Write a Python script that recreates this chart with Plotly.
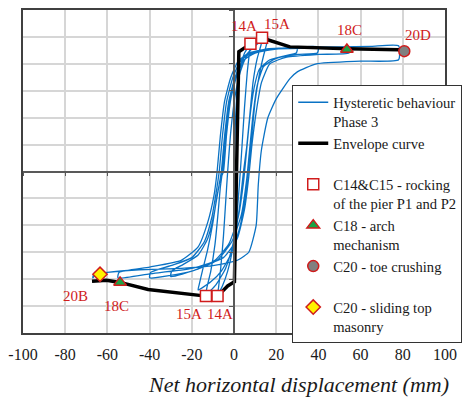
import plotly.graph_objects as go

# ---------------- data ----------------
# hysteretic cycles (net horizontal displacement mm, force)
hyst_x_c1 = [0, 0.5, 1.5, 3, 5, 7.8, 7.3, 6.3, 5, 4, 3, 1.5, -0.5, -3, -5.5, -7.8, -7.3, -6.3, -5, -4, -3]
hyst_y_c1 = [0, 15, 30, 39, 44, 47.4, 44, 37, 24, 12, 0, -15, -28, -37, -42.5, -45.8, -43, -36, -24, -12, 0]

hyst_x_c2 = [-1.5, 0.5, 3, 6, 9.5, 13.3, 12.8, 11, 9, 7.5, 6, 4.5, 2.5, -0.5, -4, -8.5, -13.3, -12.8, -11, -9, -7.5, -6.5, -5.5]
hyst_y_c2 = [15, 28, 37, 43, 47, 49.6, 47, 42, 33, 21, 9, 0, -14, -27, -36, -42, -45.8, -43, -37, -27, -15, -6, 0]

hyst_x_c3 = [-4, -2, 1, 4.5, 9, 13, 16, 15.5, 14, 12, 10, 8.5, 7, 5.5, 3, -1, -6, -11, -17, -16.5, -15, -12.5, -10, -8, -6.5, -5]
hyst_y_c3 = [14, 27, 36, 42, 46, 48.5, 50, 47.5, 43, 36, 26, 14, 3, -8, -20, -30, -37, -41, -44, -42, -37, -29, -19, -9, -3, 0]

hyst_x_c4 = [-3.5, -1.5, 1.5, 5, 10, 18, 30, 29.5, 24, 17, 12, 9.5, 7.5, 6, 4.5, 2, -2.5, -9, -18, -30, -29.5, -24, -17, -12.5, -9.5, -7.5, -6]
hyst_y_c4 = [14, 27, 36, 41.5, 44.5, 45.5, 46, 44, 43, 41.5, 38, 31, 20, 8, -4, -17, -27, -33, -36.5, -39, -37, -34.5, -31, -25, -16, -7, 0]

hyst_x_c5 = [-4.5, -2.5, 0.5, 4, 10, 20, 40, 39.5, 30, 20, 14, 11, 9, 7.5, 6, 3.5, -1, -8, -20, -40, -39.5, -30, -20, -14, -10.5, -8.5, -7]
hyst_y_c5 = [13, 26, 35, 41, 44, 45.5, 46.3, 44, 43.5, 42, 39, 32, 21, 9, -3, -16, -26, -33, -37, -39.5, -37.5, -35, -32, -26, -17, -8, 0]

hyst_x_c6 = [-5.5, -3.5, -0.5, 3, 8, 18, 35, 55, 54.5, 40, 25, 17, 13, 10.5, 8.5, 7, 5, 1.5, -5, -20, -40, -55, -54.5, -40, -25, -17, -12.5, -9.5, -8]
hyst_y_c6 = [13, 26, 35, 41, 44, 45.5, 45.8, 46, 44, 43.5, 42.5, 40, 33, 22, 10, -2, -14, -25, -32, -36, -38, -39.5, -37.5, -35.5, -33, -28, -19, -9, 0]

hyst_x_c7 = [-6.5, -4.5, -1.5, 2, 7, 15, 30, 50, 65, 78, 78, 60, 39, 30, 26.5, 20, 16, 13, 11.5, 10.5, 7, 2.3, -2, -10, -25, -45, -60, -65, -67, -66, -63]
hyst_y_c7 = [13, 26, 35, 41, 44, 45.5, 46, 46.3, 46.5, 46.7, 41.5, 41, 40, 37, 34.5, 27, 19.9, 8, -5, -20, -30, -32.7, -33.8, -35, -36, -36.5, -37.5, -38, -39.5, -37.5, -36.5]

# envelope curve
env_x = [-67.3, -60.4, -54, -40.7, -13.3, -7.8, -3, 0.2, 2.3, 7.8, 13.3, 26.5, 54, 78, 80.5]
env_y = [-40.8, -40.4, -41.2, -43.8, -46.3, -46.3, -42.5, -41, 44.5, 47.4, 49.6, 46.3, 45.6, 45.2, 44.7]

# damage markers
rock_x = [7.8, 13.3, -13.3, -7.8]
rock_y = [47.5, 49.7, -46.3, -46.3]
rock_lbl = ["14A", "15A", "15A", "14A"]
arch_x = [53.5, -54]
arch_y = [45.3, -41.2]
arch_lbl = ["18C", "18C"]
toe_x = [80.7]
toe_y = [44.7]
toe_lbl = ["20D"]
slide_x = [-63.5]
slide_y = [-38.2]
slide_lbl = ["20B"]

x_ticks = [-100, -80, -60, -40, -20, 0, 20, 40, 60, 80, 100]
x_tick_text = ["-100", "-80", "-60", "-40", "-20", "0", "20", "40", "60", "80", "100"]
y_ticks = [-60, -50, -40, -30, -20, -10, 0, 10, 20, 30, 40, 50, 60]

# ---------------- figure ----------------
hyst_x = [0] + hyst_x_c1 + hyst_x_c2 + hyst_x_c3 + hyst_x_c4 + hyst_x_c5 + hyst_x_c6 + hyst_x_c7
hyst_y = [0] + hyst_y_c1 + hyst_y_c2 + hyst_y_c3 + hyst_y_c4 + hyst_y_c5 + hyst_y_c6 + hyst_y_c7

SERIF = "Times New Roman, Liberation Serif, DejaVu Serif, serif"
RED = "#D01C1C"

fig = go.Figure()
fig.add_trace(go.Scatter(x=hyst_x, y=hyst_y, mode="lines",
                         line=dict(color="#0A72C4", width=1.3, shape="spline", smoothing=0.5),
                         name="Hysteretic behaviour<br>Phase 3"))
fig.add_trace(go.Scatter(x=env_x, y=env_y, mode="lines",
                         line=dict(color="black", width=3.5),
                         name="Envelope curve<br> "))
fig.add_trace(go.Scatter(x=rock_x, y=rock_y, mode="markers",
                         marker=dict(symbol="square", size=11, color="white",
                                     line=dict(color=RED, width=1.5)),
                         name="C14&C15 - rocking<br>of the pier P1 and P2"))
fig.add_trace(go.Scatter(x=arch_x, y=arch_y, mode="markers",
                         marker=dict(symbol="triangle-up", size=11, color="#1BA345",
                                     line=dict(color=RED, width=1.5)),
                         name="C18 - arch<br>mechanism"))
fig.add_trace(go.Scatter(x=toe_x, y=toe_y, mode="markers",
                         marker=dict(symbol="circle", size=11, color="#808080",
                                     line=dict(color=RED, width=1.5)),
                         name="C20 - toe crushing<br> "))
fig.add_trace(go.Scatter(x=slide_x, y=slide_y, mode="markers",
                         marker=dict(symbol="diamond", size=11, color="#FFF200",
                                     line=dict(color=RED, width=1.5)),
                         name="C20 - sliding top<br>masonry"))
# invisible trace carrying the zero-crossing axes
fig.add_trace(go.Scatter(x=[0], y=[0], xaxis="x2", yaxis="y2", mode="markers",
                         marker=dict(opacity=0), showlegend=False, hoverinfo="skip"))

# point labels
label_offsets = {
    (7.8, 47.5): (-6, 18), (13.3, 49.7): (15, 14), (-13.3, -46.3): (-17, -18), (-7.8, -46.3): (2, -18),
    (53.5, 45.3): (3, 20), (-54, -41.2): (-4, -24), (80.7, 44.7): (14, 16), (-63.5, -38.2): (-25, -22),
}
for xs, ys, ls in [(rock_x, rock_y, rock_lbl), (arch_x, arch_y, arch_lbl),
                   (toe_x, toe_y, toe_lbl), (slide_x, slide_y, slide_lbl)]:
    for xv, yv, lv in zip(xs, ys, ls):
        dx, dy = label_offsets[(xv, yv)]
        fig.add_annotation(x=xv, y=yv, text=lv, showarrow=False, xshift=dx, yshift=dy,
                           font=dict(family=SERIF, size=15, color=RED))

fig.add_annotation(xref="paper", yref="paper", x=0.652, y=-0.16, yanchor="middle",
                   text="<i>Net horizontal displacement (mm)</i>", showarrow=False,
                   font=dict(family=SERIF, size=22, color="#1a1a1a"))

fig.update_layout(
    width=470, height=399,
    margin=dict(l=13, r=20, t=8, b=66),
    paper_bgcolor="white", plot_bgcolor="white",
    showlegend=True,
    legend=dict(x=0.638, y=0.767, xanchor="left", yanchor="top",
                bgcolor="white", bordercolor="#333333", borderwidth=1,
                font=dict(family=SERIF, size=14.6, color="#1a1a1a"),
                valign="top", tracegroupgap=0),
    xaxis=dict(range=[-100, 100], tickvals=x_ticks, ticktext=x_tick_text, showgrid=True,
               gridcolor="#D6D6D6", gridwidth=1.5, ticklabeloverflow="allow",
               zeroline=False, showline=True, linecolor="#404040", linewidth=1.5, mirror=True,
               ticks="", ticklabelstandoff=6, tickfont=dict(family=SERIF, size=16, color="#1a1a1a")),
    yaxis=dict(range=[-60, 60], tickvals=y_ticks, showgrid=True, gridcolor="#D6D6D6", gridwidth=1.5,
               zeroline=False, showline=True, linecolor="#404040", linewidth=1.5, mirror=True,
               ticks="", showticklabels=False),
    xaxis2=dict(overlaying="x", anchor="free", position=0.5, range=[-100, 100], tickvals=x_ticks,
                showgrid=False, zeroline=False, showline=True, linecolor="#595959", linewidth=1.5,
                ticks="outside", ticklen=4, tickcolor="#595959", showticklabels=False),
    yaxis2=dict(overlaying="y", anchor="free", position=0.5, range=[-60, 60], tickvals=y_ticks,
                showgrid=False, zeroline=False, showline=True, linecolor="#595959", linewidth=1.5,
                ticks="outside", ticklen=4, tickcolor="#595959", showticklabels=False),
)

fig.write_html("out.html")
